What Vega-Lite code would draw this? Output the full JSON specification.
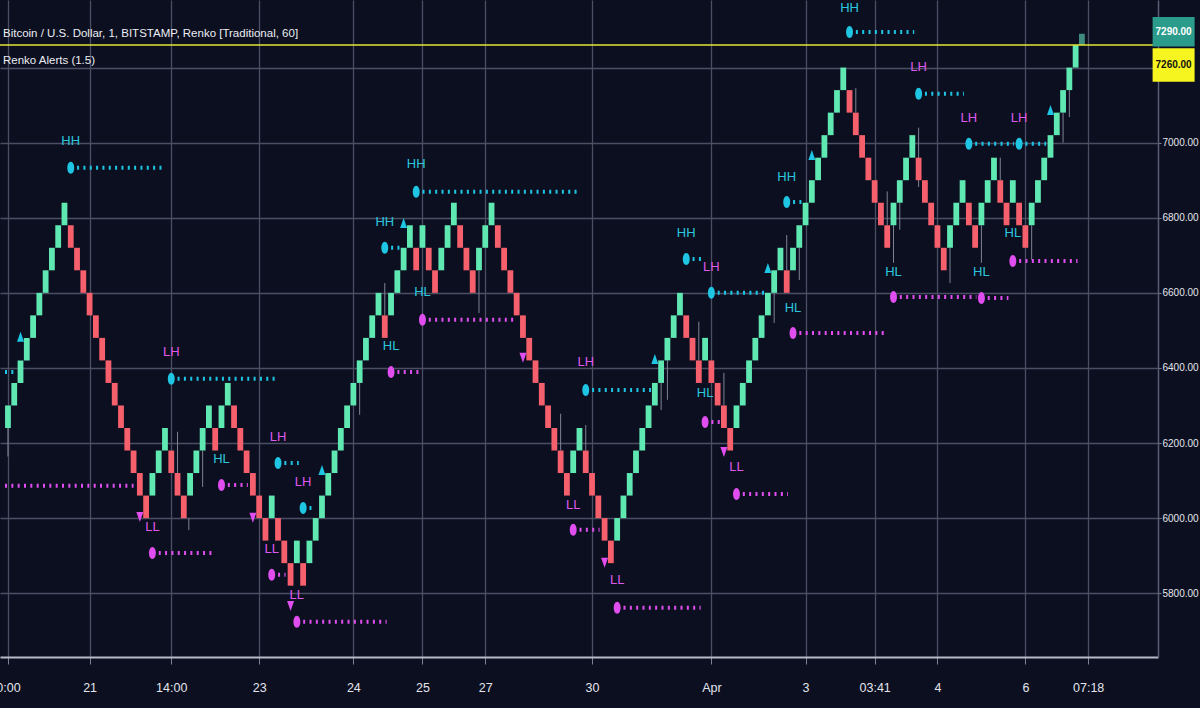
{
"$schema": "https://vega.github.io/schema/vega-lite/v6.json",
"width": 1158,
"height": 657,
"autosize": {"type": "none"},
"padding": {"left": 0, "top": 0, "right": 42, "bottom": 51},
"background": "#0b0f20",
"title": {"text": ["Bitcoin / U.S. Dollar, 1, BITSTAMP, Renko [Traditional, 60]", "Renko Alerts (1.5)"], "anchor": "start", "frame": "group", "orient": "top", "offset": -77, "dx": 3, "lineHeight": 27, "font": "Liberation Sans, sans-serif", "fontSize": 11.5, "fontWeight": "normal", "color": "#eceef3", "baseline": "bottom"},
"config": {
  "view": {"stroke": null},
  "axis": {"labelFont": "Liberation Sans, sans-serif"},
  "text": {"font": "Liberation Sans, sans-serif"}
},
"datasets": {
"bricks": [
{"i":0,"o":6240,"c":6300,"d":"u"},{"i":1,"o":6300,"c":6360,"d":"u"},{"i":2,"o":6360,"c":6420,"d":"u"},{"i":3,"o":6420,"c":6480,"d":"u"},{"i":4,"o":6480,"c":6540,"d":"u"},{"i":5,"o":6540,"c":6600,"d":"u"},{"i":6,"o":6600,"c":6660,"d":"u"},{"i":7,"o":6660,"c":6720,"d":"u"},{"i":8,"o":6720,"c":6780,"d":"u"},{"i":9,"o":6780,"c":6840,"d":"u"},
{"i":10,"o":6780,"c":6720,"d":"d"},{"i":11,"o":6720,"c":6660,"d":"d"},{"i":12,"o":6660,"c":6600,"d":"d"},{"i":13,"o":6600,"c":6540,"d":"d"},{"i":14,"o":6540,"c":6480,"d":"d"},{"i":15,"o":6480,"c":6420,"d":"d"},{"i":16,"o":6420,"c":6360,"d":"d"},{"i":17,"o":6360,"c":6300,"d":"d"},{"i":18,"o":6300,"c":6240,"d":"d"},{"i":19,"o":6240,"c":6180,"d":"d"},
{"i":20,"o":6180,"c":6120,"d":"d"},{"i":21,"o":6120,"c":6060,"d":"d"},{"i":22,"o":6060,"c":6000,"d":"d"},{"i":23,"o":6060,"c":6120,"d":"u"},{"i":24,"o":6120,"c":6180,"d":"u"},{"i":25,"o":6180,"c":6240,"d":"u"},{"i":26,"o":6180,"c":6120,"d":"d"},{"i":27,"o":6120,"c":6060,"d":"d"},{"i":28,"o":6060,"c":6000,"d":"d"},{"i":29,"o":6060,"c":6120,"d":"u"},
{"i":30,"o":6120,"c":6180,"d":"u"},{"i":31,"o":6180,"c":6240,"d":"u"},{"i":32,"o":6240,"c":6300,"d":"u"},{"i":33,"o":6240,"c":6180,"d":"d"},{"i":34,"o":6240,"c":6300,"d":"u"},{"i":35,"o":6300,"c":6360,"d":"u"},{"i":36,"o":6300,"c":6240,"d":"d"},{"i":37,"o":6240,"c":6180,"d":"d"},{"i":38,"o":6180,"c":6120,"d":"d"},{"i":39,"o":6120,"c":6060,"d":"d"},
{"i":40,"o":6060,"c":6000,"d":"d"},{"i":41,"o":6000,"c":5940,"d":"d"},{"i":42,"o":6000,"c":6060,"d":"u"},{"i":43,"o":6000,"c":5940,"d":"d"},{"i":44,"o":5940,"c":5880,"d":"d"},{"i":45,"o":5880,"c":5820,"d":"d"},{"i":46,"o":5880,"c":5940,"d":"u"},{"i":47,"o":5880,"c":5820,"d":"d"},{"i":48,"o":5880,"c":5940,"d":"u"},{"i":49,"o":5940,"c":6000,"d":"u"},
{"i":50,"o":6000,"c":6060,"d":"u"},{"i":51,"o":6060,"c":6120,"d":"u"},{"i":52,"o":6120,"c":6180,"d":"u"},{"i":53,"o":6180,"c":6240,"d":"u"},{"i":54,"o":6240,"c":6300,"d":"u"},{"i":55,"o":6300,"c":6360,"d":"u"},{"i":56,"o":6360,"c":6420,"d":"u"},{"i":57,"o":6420,"c":6480,"d":"u"},{"i":58,"o":6480,"c":6540,"d":"u"},{"i":59,"o":6540,"c":6600,"d":"u"},
{"i":60,"o":6540,"c":6480,"d":"d"},{"i":61,"o":6540,"c":6600,"d":"u"},{"i":62,"o":6600,"c":6660,"d":"u"},{"i":63,"o":6660,"c":6720,"d":"u"},{"i":64,"o":6720,"c":6780,"d":"u"},{"i":65,"o":6720,"c":6660,"d":"d"},{"i":66,"o":6720,"c":6780,"d":"u"},{"i":67,"o":6720,"c":6660,"d":"d"},{"i":68,"o":6660,"c":6600,"d":"d"},{"i":69,"o":6660,"c":6720,"d":"u"},
{"i":70,"o":6720,"c":6780,"d":"u"},{"i":71,"o":6780,"c":6840,"d":"u"},{"i":72,"o":6780,"c":6720,"d":"d"},{"i":73,"o":6720,"c":6660,"d":"d"},{"i":74,"o":6660,"c":6600,"d":"d"},{"i":75,"o":6660,"c":6720,"d":"u"},{"i":76,"o":6720,"c":6780,"d":"u"},{"i":77,"o":6780,"c":6840,"d":"u"},{"i":78,"o":6780,"c":6720,"d":"d"},{"i":79,"o":6720,"c":6660,"d":"d"},
{"i":80,"o":6660,"c":6600,"d":"d"},{"i":81,"o":6600,"c":6540,"d":"d"},{"i":82,"o":6540,"c":6480,"d":"d"},{"i":83,"o":6480,"c":6420,"d":"d"},{"i":84,"o":6420,"c":6360,"d":"d"},{"i":85,"o":6360,"c":6300,"d":"d"},{"i":86,"o":6300,"c":6240,"d":"d"},{"i":87,"o":6240,"c":6180,"d":"d"},{"i":88,"o":6180,"c":6120,"d":"d"},{"i":89,"o":6120,"c":6060,"d":"d"},
{"i":90,"o":6120,"c":6180,"d":"u"},{"i":91,"o":6180,"c":6240,"d":"u"},{"i":92,"o":6180,"c":6120,"d":"d"},{"i":93,"o":6120,"c":6060,"d":"d"},{"i":94,"o":6060,"c":6000,"d":"d"},{"i":95,"o":6000,"c":5940,"d":"d"},{"i":96,"o":5940,"c":5880,"d":"d"},{"i":97,"o":5940,"c":6000,"d":"u"},{"i":98,"o":6000,"c":6060,"d":"u"},{"i":99,"o":6060,"c":6120,"d":"u"},
{"i":100,"o":6120,"c":6180,"d":"u"},{"i":101,"o":6180,"c":6240,"d":"u"},{"i":102,"o":6240,"c":6300,"d":"u"},{"i":103,"o":6300,"c":6360,"d":"u"},{"i":104,"o":6360,"c":6420,"d":"u"},{"i":105,"o":6420,"c":6480,"d":"u"},{"i":106,"o":6480,"c":6540,"d":"u"},{"i":107,"o":6540,"c":6600,"d":"u"},{"i":108,"o":6540,"c":6480,"d":"d"},{"i":109,"o":6480,"c":6420,"d":"d"},
{"i":110,"o":6420,"c":6360,"d":"d"},{"i":111,"o":6420,"c":6480,"d":"u"},{"i":112,"o":6420,"c":6360,"d":"d"},{"i":113,"o":6360,"c":6300,"d":"d"},{"i":114,"o":6300,"c":6240,"d":"d"},{"i":115,"o":6240,"c":6180,"d":"d"},{"i":116,"o":6240,"c":6300,"d":"u"},{"i":117,"o":6300,"c":6360,"d":"u"},{"i":118,"o":6360,"c":6420,"d":"u"},{"i":119,"o":6420,"c":6480,"d":"u"},
{"i":120,"o":6480,"c":6540,"d":"u"},{"i":121,"o":6540,"c":6600,"d":"u"},{"i":122,"o":6600,"c":6660,"d":"u"},{"i":123,"o":6660,"c":6720,"d":"u"},{"i":124,"o":6660,"c":6600,"d":"d"},{"i":125,"o":6660,"c":6720,"d":"u"},{"i":126,"o":6720,"c":6780,"d":"u"},{"i":127,"o":6780,"c":6840,"d":"u"},{"i":128,"o":6840,"c":6900,"d":"u"},{"i":129,"o":6900,"c":6960,"d":"u"},
{"i":130,"o":6960,"c":7020,"d":"u"},{"i":131,"o":7020,"c":7080,"d":"u"},{"i":132,"o":7080,"c":7140,"d":"u"},{"i":133,"o":7140,"c":7200,"d":"u"},{"i":134,"o":7140,"c":7080,"d":"d"},{"i":135,"o":7080,"c":7020,"d":"d"},{"i":136,"o":7020,"c":6960,"d":"d"},{"i":137,"o":6960,"c":6900,"d":"d"},{"i":138,"o":6900,"c":6840,"d":"d"},{"i":139,"o":6840,"c":6780,"d":"d"},
{"i":140,"o":6780,"c":6720,"d":"d"},{"i":141,"o":6780,"c":6840,"d":"u"},{"i":142,"o":6840,"c":6900,"d":"u"},{"i":143,"o":6900,"c":6960,"d":"u"},{"i":144,"o":6960,"c":7020,"d":"u"},{"i":145,"o":6960,"c":6900,"d":"d"},{"i":146,"o":6900,"c":6840,"d":"d"},{"i":147,"o":6840,"c":6780,"d":"d"},{"i":148,"o":6780,"c":6720,"d":"d"},{"i":149,"o":6720,"c":6660,"d":"d"},
{"i":150,"o":6720,"c":6780,"d":"u"},{"i":151,"o":6780,"c":6840,"d":"u"},{"i":152,"o":6840,"c":6900,"d":"u"},{"i":153,"o":6840,"c":6780,"d":"d"},{"i":154,"o":6780,"c":6720,"d":"d"},{"i":155,"o":6780,"c":6840,"d":"u"},{"i":156,"o":6840,"c":6900,"d":"u"},{"i":157,"o":6900,"c":6960,"d":"u"},{"i":158,"o":6900,"c":6840,"d":"d"},{"i":159,"o":6840,"c":6780,"d":"d"},
{"i":160,"o":6840,"c":6900,"d":"u"},{"i":161,"o":6840,"c":6780,"d":"d"},{"i":162,"o":6780,"c":6720,"d":"d"},{"i":163,"o":6780,"c":6840,"d":"u"},{"i":164,"o":6840,"c":6900,"d":"u"},{"i":165,"o":6900,"c":6960,"d":"u"},{"i":166,"o":6960,"c":7020,"d":"u"},{"i":167,"o":7020,"c":7080,"d":"u"},{"i":168,"o":7080,"c":7140,"d":"u"},{"i":169,"o":7140,"c":7200,"d":"u"},
{"i":170,"o":7200,"c":7260,"d":"u"},{"i":171,"o":7260,"c":7290,"d":"n"}
],
"wicks": [
{"i":0,"lo":6164,"hi":6240},{"i":27,"lo":6120,"hi":6230},{"i":28.8,"lo":5968,"hi":6000},{"i":31,"lo":6083,"hi":6180},{"i":56,"lo":6275,"hi":6360},{"i":60,"lo":6540,"hi":6626},{"i":75,"lo":6546,"hi":6660},{"i":88,"lo":6180,"hi":6278},{"i":92,"lo":6180,"hi":6248},{"i":104,"lo":6288,"hi":6360},{"i":105,"lo":6315,"hi":6420},{"i":110,"lo":6420,"hi":6523},{"i":114,"lo":6300,"hi":6387},{"i":122,"lo":6520,"hi":6600},{"i":124,"lo":6660,"hi":6754},{"i":126,"lo":6634,"hi":6720},{"i":135,"lo":7080,"hi":7145},{"i":140,"lo":6780,"hi":6870},{"i":141,"lo":6680,"hi":6780},{"i":142,"lo":6768,"hi":6840},{"i":145,"lo":6882,"hi":7040},{"i":150,"lo":6626,"hi":6720},{"i":155,"lo":6680,"hi":6780},{"i":158,"lo":6900,"hi":6960},{"i":163,"lo":6688,"hi":6780},{"i":168,"lo":7000,"hi":7080},{"i":169,"lo":7068,"hi":7140}
],
"pivots": [
{"k":"H","i":-0.47,"v":6389,"e":1.4},{"k":"L","i":-0.47,"v":6086,"e":20},
{"k":"HH","i":10,"v":6933,"e":25,"tv":7005},{"k":"LL","i":23,"v":5907,"e":33,"tv":5977},{"k":"LH","i":26,"v":6371,"e":42.5,"tv":6443},{"k":"HL","i":34,"v":6088,"e":38.2,"tv":6158},{"k":"LL","i":42,"v":5849,"e":44.2,"tv":5918},{"k":"LH","i":43,"v":6147,"e":46.3,"tv":6216},{"k":"LL","i":46,"v":5724,"e":60.3,"tv":5796},{"k":"LH","i":47,"v":6027,"e":48.9,"tv":6096},{"k":"HH","i":60,"v":6720,"e":62.4,"tv":6789},{"k":"HL","i":61,"v":6389,"e":65.4,"tv":6459},{"k":"HH","i":65,"v":6869,"e":91.1,"tv":6943},{"k":"HL","i":66,"v":6528,"e":81.1,"tv":6602},{"k":"LL","i":90,"v":5969,"e":94.2,"tv":6035},{"k":"LH","i":92,"v":6341,"e":102.4,"tv":6416},{"k":"LL","i":97,"v":5761,"e":110.3,"tv":5835},{"k":"HH","i":108,"v":6690,"e":110.8,"tv":6760},{"k":"HL","i":111,"v":6256,"e":113.5,"tv":6334},{"k":"LH","i":112,"v":6600,"e":120.8,"tv":6669},{"k":"LL","i":116,"v":6064,"e":124.2,"tv":6136},{"k":"HH","i":124,"v":6842,"e":126.6,"tv":6909},{"k":"HL","i":125,"v":6493,"e":140,"tv":6560},{"k":"HH","i":134,"v":7295,"e":144.3,"tv":7359},{"k":"HL","i":141,"v":6589,"e":154.2,"tv":6656},{"k":"LH","i":145,"v":7130,"e":152.2,"tv":7202},{"k":"LH","i":153,"v":6997,"e":160.2,"tv":7066},{"k":"HL","i":155,"v":6586,"e":159.3,"tv":6656},{"k":"HL","i":160,"v":6685,"e":170.3,"tv":6760},{"k":"LH","i":161,"v":6997,"e":165.3,"tv":7066}
],
"arrows": [
{"i":2,"v":6483,"d":"up"},{"i":21,"v":6003,"d":"dn"},{"i":39,"v":6001,"d":"dn"},{"i":45,"v":5766,"d":"dn"},{"i":50,"v":6128,"d":"up"},{"i":63,"v":6786,"d":"up"},{"i":82,"v":6427,"d":"dn"},{"i":95,"v":5881,"d":"dn"},{"i":103,"v":6424,"d":"up"},{"i":114,"v":6176,"d":"dn"},{"i":121,"v":6666,"d":"up"},{"i":128,"v":6967,"d":"up"},{"i":166,"v":7087,"d":"up"}
]
},
"layer": [
{"data": {"name": "wicks"}, "mark": {"type": "rule", "color": "#7f8394", "strokeWidth": 1},
 "encoding": {
  "x": {"field": "i", "type": "quantitative", "title": null, "scale": {"domain": [-0.47, 182.32], "nice": false, "zero": false},
   "axis": {"orient": "bottom", "values": [0,13,26,40,55,66,76,93,112,127,138,148,162,172],
    "labelExpr": "datum.value==0?'0:00':datum.value==13?'21':datum.value==26?'14:00':datum.value==40?'23':datum.value==55?'24':datum.value==66?'25':datum.value==76?'27':datum.value==93?'30':datum.value==112?'Apr':datum.value==127?'3':datum.value==138?'03:41':datum.value==148?'4':datum.value==162?'6':'07:18'",
    "grid": true, "gridColor": "#4b4f63", "gridWidth": 1.3, "domainColor": "#b7bbc7", "domainWidth": 2, "tickColor": "#7d8194", "tickSize": 7, "tickWidth": 1, "labelColor": "#e3e5ec", "labelFontSize": 12.5, "labelPadding": 17, "labelFlush": false, "labelOverlap": false, "labelBound": false, "zindex": 0}},
  "y": {"field": "lo", "type": "quantitative", "title": null, "scale": {"domain": [5630, 7380], "nice": false, "zero": false},
   "axis": {"orient": "right", "values": [5800,6000,6200,6400,6600,6800,7000,7200], "labelExpr": "datum.value==7200?'':format(datum.value,'.2f')", "grid": true, "gridColor": "#4b4f63", "gridWidth": 1.3, "domainColor": "#5a5e72", "domainWidth": 1.5, "tickColor": "#7d8194", "tickSize": 3, "labelColor": "#e3e5ec", "labelFontSize": 10, "labelPadding": 1, "zindex": 0}},
  "y2": {"field": "hi"}
 }},
{"data": {"name": "bricks"}, "mark": {"type": "bar", "size": 5.8},
 "encoding": {
  "x": {"field": "i", "type": "quantitative", "title": null, "scale": {"domain": [-0.47, 182.32], "nice": false, "zero": false}},
  "y": {"field": "o", "type": "quantitative", "title": null, "scale": {"domain": [5630, 7380], "nice": false, "zero": false}},
  "y2": {"field": "c"},
  "color": {"field": "d", "type": "nominal", "scale": {"domain": ["u","d","n"], "range": ["#60e8b2","#f6606c","#3f8c7e"]}, "legend": null}
 }},
{"data": {"name": "pivots"}, "mark": {"type": "rule", "strokeWidth": 4, "strokeDash": [2, 4.335]},
 "encoding": {
  "x": {"field": "i", "type": "quantitative", "title": null, "scale": {"domain": [-0.47, 182.32], "nice": false, "zero": false}},
  "x2": {"field": "e"},
  "y": {"field": "v", "type": "quantitative", "title": null, "scale": {"domain": [5630, 7380], "nice": false, "zero": false}},
  "color": {"condition": {"test": "datum.k=='HH'||datum.k=='LH'||datum.k=='H'", "value": "#1fc6e4"}, "value": "#e14ef0"}
 }},
{"data": {"name": "pivots"}, "transform": [{"filter": "isValid(datum.tv)"}],
 "mark": {"type": "point", "filled": true, "opacity": 1, "shape": "M0,-1C0.77,-1 0.77,1 0,1C-0.77,1 -0.77,-1 0,-1Z", "size": 144},
 "encoding": {
  "x": {"field": "i", "type": "quantitative", "title": null, "scale": {"domain": [-0.47, 182.32], "nice": false, "zero": false}},
  "y": {"field": "v", "type": "quantitative", "title": null, "scale": {"domain": [5630, 7380], "nice": false, "zero": false}},
  "color": {"condition": {"test": "datum.k=='HH'||datum.k=='LH'", "value": "#1fc6e4"}, "value": "#e14ef0"}
 }},
{"data": {"name": "pivots"}, "transform": [{"filter": "isValid(datum.tv)"}],
 "mark": {"type": "text", "fontSize": 13, "align": "center", "baseline": "middle"},
 "encoding": {
  "x": {"field": "i", "type": "quantitative", "title": null, "scale": {"domain": [-0.47, 182.32], "nice": false, "zero": false}},
  "y": {"field": "tv", "type": "quantitative", "title": null, "scale": {"domain": [5630, 7380], "nice": false, "zero": false}},
  "text": {"field": "k"},
  "color": {"condition": {"test": "datum.k=='HH'||datum.k=='HL'", "value": "#2cc6de"}, "value": "#de5aec"}
 }},
{"data": {"name": "arrows"},
 "mark": {"type": "point", "filled": true, "opacity": 1, "size": 100},
 "encoding": {
  "x": {"field": "i", "type": "quantitative", "title": null, "scale": {"domain": [-0.47, 182.32], "nice": false, "zero": false}},
  "y": {"field": "v", "type": "quantitative", "title": null, "scale": {"domain": [5630, 7380], "nice": false, "zero": false}},
  "shape": {"condition": {"test": "datum.d=='up'", "value": "M0,-1L0.7,1L-0.7,1Z"}, "value": "M0,1L0.7,-1L-0.7,-1Z"},
  "color": {"condition": {"test": "datum.d=='up'", "value": "#1fc6e4"}, "value": "#e14ef0"}
 }},
{"data": {"values": [{"p": 7260}]}, "mark": {"type": "rule", "color": "#e6e630", "strokeWidth": 1.6},
 "encoding": {
  "y": {"field": "p", "type": "quantitative", "title": null, "scale": {"domain": [5630, 7380], "nice": false, "zero": false}}
 }},
{"data": {"values": [{"p": 7290, "t": "7290.00"}]},
 "mark": {"type": "point", "filled": true, "opacity": 1, "color": "#2b9c8c", "shape": "M-1,-0.7H1V0.7H-1Z", "size": 1764, "yOffset": -2},
 "encoding": {
  "x": {"datum": 185.6, "type": "quantitative", "title": null, "scale": {"domain": [-0.47, 182.32], "nice": false, "zero": false}},
  "y": {"field": "p", "type": "quantitative", "title": null, "scale": {"domain": [5630, 7380], "nice": false, "zero": false}}
 }},
{"data": {"values": [{"p": 7290, "t": "7290.00"}]},
 "mark": {"type": "text", "color": "#ffffff", "fontSize": 10, "fontWeight": "bold", "align": "center", "baseline": "middle", "yOffset": -2},
 "encoding": {
  "x": {"datum": 185.6, "type": "quantitative", "title": null, "scale": {"domain": [-0.47, 182.32], "nice": false, "zero": false}},
  "y": {"field": "p", "type": "quantitative", "title": null, "scale": {"domain": [5630, 7380], "nice": false, "zero": false}},
  "text": {"field": "t"}
 }},
{"data": {"values": [{"p": 7260, "t": "7260.00"}]},
 "mark": {"type": "point", "filled": true, "opacity": 1, "color": "#f7f520", "shape": "M-1,-0.8H1V0.8H-1Z", "size": 1764, "yOffset": 20},
 "encoding": {
  "x": {"datum": 185.6, "type": "quantitative", "title": null, "scale": {"domain": [-0.47, 182.32], "nice": false, "zero": false}},
  "y": {"field": "p", "type": "quantitative", "title": null, "scale": {"domain": [5630, 7380], "nice": false, "zero": false}}
 }},
{"data": {"values": [{"p": 7260, "t": "7260.00"}]},
 "mark": {"type": "text", "color": "#111111", "fontSize": 10, "fontWeight": "bold", "align": "center", "baseline": "middle", "yOffset": 20},
 "encoding": {
  "x": {"datum": 185.6, "type": "quantitative", "title": null, "scale": {"domain": [-0.47, 182.32], "nice": false, "zero": false}},
  "y": {"field": "p", "type": "quantitative", "title": null, "scale": {"domain": [5630, 7380], "nice": false, "zero": false}},
  "text": {"field": "t"}
 }}
]
}
